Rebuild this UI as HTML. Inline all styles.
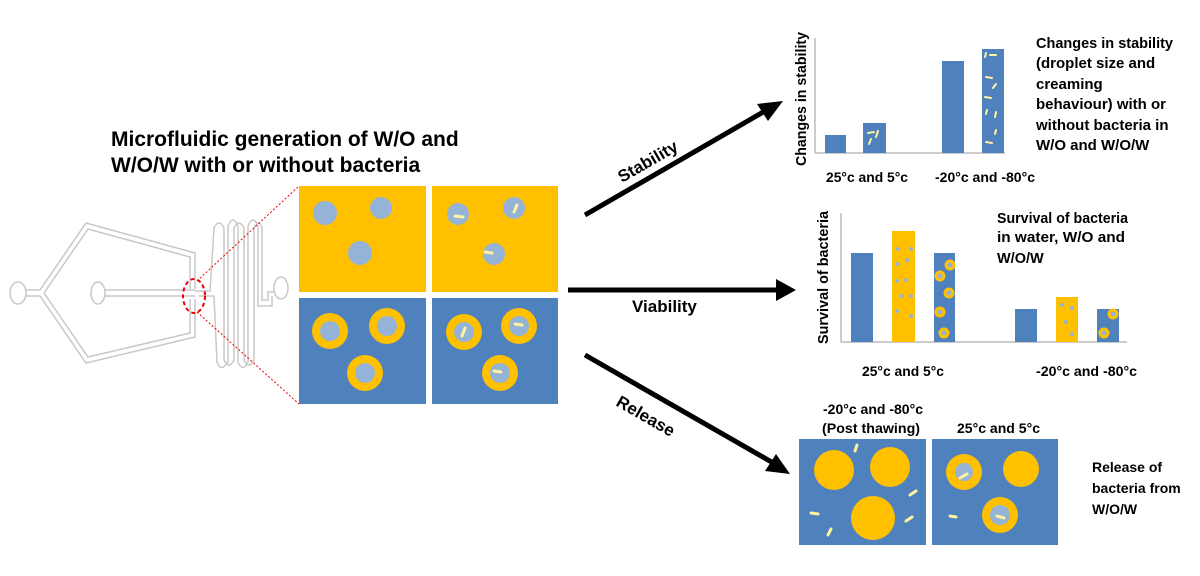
<!DOCTYPE html>
<html><head><meta charset="utf-8"><style>
html,body{margin:0;padding:0;background:#fff;width:1200px;height:576px;overflow:hidden}
svg{display:block}
text{font-family:"Liberation Sans",sans-serif;fill:#000}
</style></head><body>
<svg width="1200" height="576" viewBox="0 0 1200 576" xmlns="http://www.w3.org/2000/svg">
<!-- title -->
<text x="111" y="146" font-size="21" font-weight="bold">Microfluidic generation of W/O and</text>
<text x="111" y="172" font-size="21" font-weight="bold">W/O/W with or without bacteria</text>

<!-- device -->
<g fill="none" stroke="#c8c8c8" stroke-width="1.5">
<ellipse cx="18" cy="293" rx="8" ry="11"/>
<path d="M26 290 L40 290 L86 223 L195 253 L195 289 M26 296 L40 296 L86 363 L195 337 L195 299"/>
<path d="M44 293 L88 229 L190 257 L190 289 M44 293 L88 357 L190 333 L190 299"/>
<ellipse cx="98" cy="293" rx="7" ry="11"/>
<path d="M105 290 L195 290 M105 296 L195 296"/>
<path d="M195 291 L210 291 L214 228 Q219 218 224 228 L224 360 Q229 370 234 360 L234 228 Q239 218 244 228 L244 360 Q249 370 254 360 L254 228 Q259 218 262 228 L262 300 L268 300 L268 292 L275 292"/>
<path d="M199 296 L214 296 L217 362 Q221 373 228 362 L228 226 Q233 214 238 226 L238 362 Q243 373 248 362 L248 226 Q253 214 258 226 L258 306 L272 306 L272 296"/>
<ellipse cx="281" cy="288" rx="7" ry="11"/>
</g>
<ellipse cx="194" cy="296" rx="11" ry="17" fill="none" stroke="#e00" stroke-width="2" stroke-dasharray="4,3"/>
<line x1="197" y1="281" x2="299" y2="186" stroke="#e00" stroke-width="1" stroke-dasharray="2,2"/>
<line x1="197" y1="312" x2="299" y2="404" stroke="#e00" stroke-width="1" stroke-dasharray="2,2"/>

<!-- panels -->
<rect x="299" y="186" width="127" height="106" fill="#FFC000"/>
<rect x="432" y="186" width="126" height="106" fill="#FFC000"/>
<rect x="299" y="298" width="127" height="106" fill="#4F81BD"/>
<rect x="432" y="298" width="126" height="106" fill="#4F81BD"/>
<g fill="#95B3D7">
<circle cx="325" cy="213" r="12"/><circle cx="381" cy="208" r="11"/><circle cx="360" cy="253" r="12"/>
<circle cx="458" cy="214" r="11"/><circle cx="514" cy="208" r="11"/><circle cx="494" cy="254" r="11"/>
</g>
<g fill="#FFC000">
<circle cx="330" cy="331" r="18"/><circle cx="387" cy="326" r="18"/><circle cx="365" cy="373" r="18"/>
<circle cx="464" cy="332" r="18"/><circle cx="519" cy="326" r="18"/><circle cx="500" cy="373" r="18"/>
</g>
<g fill="#95B3D7">
<circle cx="330" cy="331" r="10"/><circle cx="387" cy="326" r="10"/><circle cx="365" cy="373" r="10"/>
<circle cx="464" cy="332" r="10"/><circle cx="519" cy="326" r="10"/><circle cx="500" cy="373" r="10"/>
</g>
<g stroke="#FFF2A0" stroke-width="3" stroke-linecap="round">
<line x1="455" y1="216" x2="463" y2="217"/><line x1="514" y1="212" x2="517" y2="205"/><line x1="485" y1="252" x2="492" y2="253"/>
<line x1="462" y1="336" x2="465" y2="328"/><line x1="515" y1="324" x2="522" y2="325"/><line x1="494" y1="371" x2="501" y2="372"/>
</g>

<!-- arrows -->
<g stroke="#000" stroke-width="5" fill="#000">
<line x1="585" y1="215" x2="765" y2="111"/>
<line x1="568" y1="290" x2="780" y2="290"/>
<line x1="585" y1="355" x2="775" y2="464"/>
</g>
<polygon points="783,101 757,104 768,121" fill="#000"/>
<polygon points="796,290 776,279 776,301" fill="#000"/>
<polygon points="790,474 765,471 776,454" fill="#000"/>
<text font-size="17" font-weight="bold" transform="translate(622,183) rotate(-30)">Stability</text>
<text x="632" y="312" font-size="17" font-weight="bold">Viability</text>
<text font-size="17" font-weight="bold" transform="translate(615,405) rotate(30)">Release</text>

<!-- chart 1 -->
<line x1="815" y1="38" x2="815" y2="153" stroke="#bbb" stroke-width="1.5"/>
<line x1="815" y1="153" x2="1005" y2="153" stroke="#bbb" stroke-width="1.5"/>
<g fill="#4F81BD">
<rect x="825" y="135" width="21" height="18"/><rect x="863" y="123" width="23" height="30"/>
<rect x="942" y="61" width="22" height="92"/><rect x="982" y="49" width="22" height="104"/>
</g>
<g stroke="#FFF2A0" stroke-width="2" stroke-linecap="round">
<line x1="868" y1="133" x2="874" y2="132"/><line x1="878" y1="131" x2="876" y2="137"/><line x1="869" y1="144" x2="871" y2="139"/>
<line x1="985" y1="57" x2="986" y2="53"/><line x1="990" y1="55" x2="996" y2="55"/><line x1="986" y1="77" x2="992" y2="78"/><line x1="996" y1="84" x2="993" y2="88"/>
<line x1="985" y1="97" x2="991" y2="98"/><line x1="986" y1="114" x2="987" y2="110"/><line x1="996" y1="112" x2="995" y2="117"/><line x1="996" y1="130" x2="995" y2="134"/><line x1="986" y1="142" x2="992" y2="143"/>
</g>
<text font-size="15" font-weight="bold" transform="translate(806,166) rotate(-90)" textLength="134" lengthAdjust="spacingAndGlyphs">Changes in stability</text>
<text x="826" y="182" font-size="14" font-weight="bold" textLength="82" lengthAdjust="spacingAndGlyphs">25°c and 5°c</text>
<text x="935" y="182" font-size="14" font-weight="bold" textLength="100" lengthAdjust="spacingAndGlyphs">-20°c and -80°c</text>
<g font-size="15" font-weight="bold">
<text x="1036" y="48" textLength="137" lengthAdjust="spacingAndGlyphs">Changes in stability</text>
<text x="1036" y="68">(droplet size and</text>
<text x="1036" y="89">creaming</text>
<text x="1036" y="109">behaviour) with or</text>
<text x="1036" y="130">without bacteria in</text>
<text x="1036" y="150">W/O and W/O/W</text>
</g>

<!-- chart 2 -->
<line x1="841" y1="213" x2="841" y2="342" stroke="#bbb" stroke-width="1.5"/>
<line x1="841" y1="342" x2="1127" y2="342" stroke="#bbb" stroke-width="1.5"/>
<rect x="851" y="253" width="22" height="89" fill="#4F81BD"/>
<rect x="892" y="231" width="23" height="111" fill="#FFC000"/>
<rect x="934" y="253" width="21" height="89" fill="#4F81BD"/>
<rect x="1015" y="309" width="22" height="33" fill="#4F81BD"/>
<rect x="1056" y="297" width="22" height="45" fill="#FFC000"/>
<rect x="1097" y="309" width="22" height="33" fill="#4F81BD"/>
<g fill="#95B3D7">
<circle cx="898" cy="249" r="2"/><circle cx="911" cy="249" r="2"/><circle cx="897" cy="264" r="2"/><circle cx="907" cy="260" r="2"/>
<circle cx="897" cy="281" r="2"/><circle cx="906" cy="280" r="2"/><circle cx="902" cy="296" r="2"/><circle cx="911" cy="296" r="2"/>
<circle cx="897" cy="311" r="2"/><circle cx="911" cy="316" r="2"/>
<circle cx="1062" cy="305" r="2"/><circle cx="1072" cy="308" r="2"/><circle cx="1066" cy="322" r="2"/><circle cx="1072" cy="334" r="2"/>
</g>
<g fill="#95B3D7" stroke="#FFC000" stroke-width="3">
<circle cx="950" cy="265" r="4"/><circle cx="940" cy="276" r="4"/><circle cx="949" cy="293" r="4"/><circle cx="940" cy="312" r="4"/><circle cx="944" cy="333" r="4"/>
<circle cx="1113" cy="314" r="4"/><circle cx="1104" cy="333" r="4"/>
</g>
<text font-size="14.5" font-weight="bold" transform="translate(828,344) rotate(-90)" textLength="133" lengthAdjust="spacingAndGlyphs">Survival of bacteria</text>
<text x="862" y="376" font-size="14" font-weight="bold" textLength="82" lengthAdjust="spacingAndGlyphs">25°c and 5°c</text>
<text x="1036" y="376" font-size="14" font-weight="bold" textLength="101" lengthAdjust="spacingAndGlyphs">-20°c and -80°c</text>
<g font-size="14.5" font-weight="bold">
<text x="997" y="223" textLength="131" lengthAdjust="spacingAndGlyphs">Survival of bacteria</text>
<text x="997" y="242" textLength="128" lengthAdjust="spacingAndGlyphs">in water, W/O and</text>
<text x="997" y="263">W/O/W</text>
</g>

<!-- release -->
<text x="823" y="414" font-size="14" font-weight="bold" textLength="100" lengthAdjust="spacingAndGlyphs">-20°c and -80°c</text>
<text x="822" y="433" font-size="14" font-weight="bold" textLength="98" lengthAdjust="spacingAndGlyphs">(Post thawing)</text>
<text x="957" y="433" font-size="14" font-weight="bold" textLength="83" lengthAdjust="spacingAndGlyphs">25°c and 5°c</text>
<rect x="799" y="439" width="127" height="106" fill="#4F81BD"/>
<rect x="932" y="439" width="126" height="106" fill="#4F81BD"/>
<g fill="#FFC000">
<circle cx="834" cy="470" r="20"/><circle cx="890" cy="467" r="20"/><circle cx="873" cy="518" r="22"/>
<circle cx="964" cy="472" r="18"/><circle cx="1021" cy="469" r="18"/><circle cx="1000" cy="515" r="18"/>
</g>
<g fill="#95B3D7"><circle cx="964" cy="472" r="9"/><circle cx="1000" cy="515" r="10"/></g>
<g stroke="#FFF2A0" stroke-width="3" stroke-linecap="round">
<line x1="855" y1="451" x2="857" y2="445"/><line x1="910" y1="495" x2="916" y2="491"/><line x1="811" y1="513" x2="818" y2="514"/>
<line x1="906" y1="521" x2="912" y2="517"/><line x1="828" y1="535" x2="831" y2="529"/>
<line x1="960" y1="478" x2="967" y2="474"/><line x1="950" y1="516" x2="956" y2="517"/><line x1="997" y1="516" x2="1004" y2="518"/>
</g>
<g font-size="14" font-weight="bold">
<text x="1092" y="472">Release of</text>
<text x="1092" y="493">bacteria from</text>
<text x="1092" y="514">W/O/W</text>
</g>
</svg>
</body></html>
